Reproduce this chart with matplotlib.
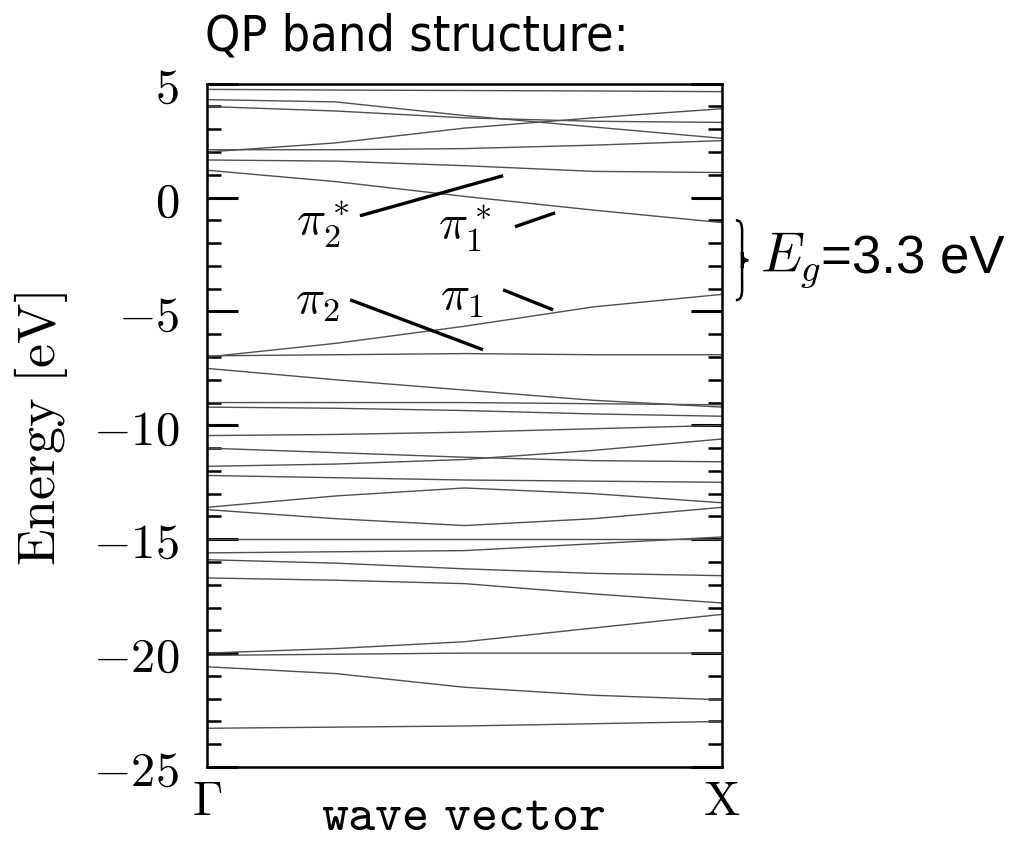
import matplotlib
matplotlib.use("Agg")
import matplotlib.pyplot as plt
import matplotlib.transforms as mtransforms
from matplotlib.ticker import MultipleLocator
from matplotlib.path import Path
from matplotlib.patches import PathPatch

plt.rcParams['mathtext.fontset'] = 'cm'

# k positions of the sampled points along Gamma -> X
k_pts = [0.0, 0.25, 0.5, 0.75, 1.0]

# conduction bands (eV), read at k_pts
c1 = [4.75, 4.72, 4.70, 4.68, 4.65]
c2 = [4.30, 4.20, 3.60, 3.10, 2.60]
c3 = [2.00, 2.40, 3.05, 3.50, 3.90]
c4 = [4.00, 3.80, 3.50, 3.35, 3.30]
c5 = [2.10, 2.10, 2.15, 2.30, 2.50]
c6 = [1.65, 1.60, 1.40, 1.15, 1.10]
c7 = [1.20, 0.70, 0.05, -0.55, -1.10]
# valence bands (eV)
v1 = [-7.00, -6.40, -5.65, -4.80, -4.25]
v2 = [-6.95, -6.90, -6.85, -6.90, -6.90]
v3 = [-7.50, -8.00, -8.45, -8.90, -9.20]
v4 = [-9.00, -9.00, -9.00, -9.05, -9.10]
v5 = [-9.20, -9.25, -9.35, -9.50, -9.60]
v6 = [-10.45, -10.40, -10.30, -10.15, -10.00]
v7 = [-11.00, -11.20, -11.40, -11.55, -11.60]
v8 = [-11.80, -11.70, -11.50, -11.10, -10.60]
v9 = [-12.20, -12.30, -12.40, -12.45, -12.50]
v10 = [-13.60, -13.10, -12.75, -13.00, -13.40]
v11 = [-13.70, -14.10, -14.40, -14.10, -13.60]
v12 = [-15.60, -15.55, -15.50, -15.20, -14.90]
v13 = [-15.00, -15.00, -15.00, -15.00, -15.00]
v14 = [-15.90, -16.05, -16.30, -16.50, -16.60]
v15 = [-16.70, -16.80, -16.95, -17.40, -17.80]
v16 = [-20.00, -19.80, -19.50, -18.90, -18.30]
v17 = [-20.10, -20.05, -20.00, -20.00, -20.00]
v18 = [-20.60, -20.90, -21.50, -21.85, -22.05]
v19 = [-23.30, -23.25, -23.20, -23.10, -23.00]

bands = [c1, c2, c3, c4, c5, c6, c7,
         v1, v2, v3, v4, v5, v6, v7, v8, v9, v10, v11, v12, v13, v14, v15,
         v16, v17, v18, v19]

y_ticks = [5, 0, -5, -10, -15, -20, -25]
x_labels = [r"$\Gamma$", r"$\mathrm{X}$"]

# annotation labels and their indicator segments (k0, E0, k1, E1)
pi_labels = [r"$\pi_2^*$", r"$\pi_1^*$", r"$\pi_2$", r"$\pi_1$"]
pi_label_pos = [(0.225, -1.2), (0.50, -1.35), (0.215, -4.5), (0.495, -4.3)]
pi_segments = [(0.297, -0.80, 0.575, 0.96),
               (0.598, -1.28, 0.676, -0.67),
               (0.278, -4.49, 0.536, -6.68),
               (0.575, -4.05, 0.672, -4.93)]

# gap edges for the brace (eV)
gap_top = -1.0
gap_bottom = -4.5

fig = plt.figure(figsize=(10.32, 8.41), dpi=100)
ax = fig.add_axes([0.2006, 0.088, 0.4990, 0.8125])

for b in bands:
    ax.plot(k_pts, b, color="#505050", lw=1.0, solid_capstyle="butt")

for (k0, e0, k1, e1) in pi_segments:
    ax.plot([k0, k1], [e0, e1], color="black", lw=2.4, solid_capstyle="butt")

for lab, (kx, ey) in zip(pi_labels, pi_label_pos):
    ax.text(kx, ey, lab, fontsize=35, ha="center", va="center")

ax.set_xlim(0, 1)
ax.set_ylim(-25, 5)
ax.set_yticks(y_ticks)
ax.set_yticklabels([f"${t}$" if t >= 0 else f"$-{abs(t)}$" for t in y_ticks],
                   fontsize=35)
ax.yaxis.set_minor_locator(MultipleLocator(1))
ax.tick_params(axis="y", which="major", direction="in", length=22, width=2.2,
               left=True, right=True, pad=20)
ax.tick_params(axis="y", which="minor", direction="in", length=10, width=1.8,
               left=True, right=True)
ax.set_xticks([])
for sp in ax.spines.values():
    sp.set_linewidth(1.8)

# x labels
ax.text(0.0, -26.5, x_labels[0], fontsize=35, ha="center", va="center")
ax.text(1.0, -26.5, x_labels[1], fontsize=35, ha="center", va="center")
fig.text(0.449, 0.030, r"$\mathtt{wave\ vector}$", fontsize=37, ha="center",
         va="center")
fig.text(0.040, 0.49, r"$\mathrm{Energy\ [eV]}$", fontsize=39, rotation=90,
         ha="center", va="center")

fig.text(0.199, 0.957, "QP band structure:", fontsize=36, ha="left",
         va="center", family="DejaVu Sans", stretch="condensed")

# gap brace drawn as a path in axes-x / data-y blended coordinates
trans = mtransforms.blended_transform_factory(ax.transAxes, ax.transData)
x0 = 1.027
w = 0.024
ym = 0.5 * (gap_top + gap_bottom)
verts = [(x0, gap_top), (x0 + w * 0.6, gap_top), (x0 + w * 0.5, gap_top - 0.4),
         (x0 + w * 0.5, gap_top - 0.9),
         (x0 + w * 0.5, ym - 0.35),
         (x0 + w * 0.5, ym - 0.05), (x0 + w * 0.8, ym), (x0 + w, ym),
         (x0 + w * 0.8, ym), (x0 + w * 0.5, ym + 0.05), (x0 + w * 0.5, ym + 0.35),
         (x0 + w * 0.5, gap_bottom + 0.9),
         (x0 + w * 0.5, gap_bottom + 0.4), (x0 + w * 0.6, gap_bottom), (x0, gap_bottom)]
codes = [Path.MOVETO, Path.CURVE4, Path.CURVE4, Path.CURVE4,
         Path.LINETO,
         Path.CURVE4, Path.CURVE4, Path.CURVE4,
         Path.CURVE4, Path.CURVE4, Path.CURVE4,
         Path.LINETO,
         Path.CURVE4, Path.CURVE4, Path.CURVE4]
brace = PathPatch(Path(verts, codes), transform=trans, facecolor="none",
                  edgecolor="black", lw=1.8, clip_on=False)
ax.add_patch(brace)

fig.text(0.736, 0.690, r"$E_g$", fontsize=40, ha="left", va="center")
fig.text(0.796, 0.692, "=3.3 eV", fontsize=38, ha="left", va="center",
         family="Liberation Sans")

fig.savefig("out.png", dpi=100)
